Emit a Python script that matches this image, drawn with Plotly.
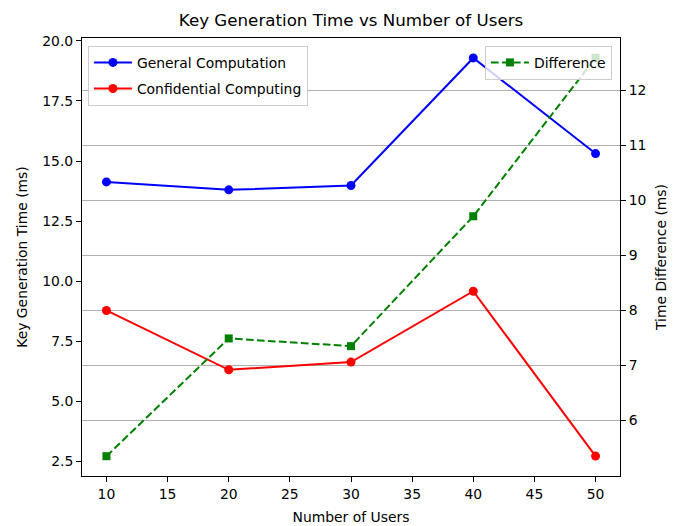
import plotly.graph_objects as go

users = [10, 20, 30, 40, 50]
general = [14.13, 13.80, 13.98, 19.29, 15.31]
confidential = [8.78, 6.31, 6.63, 9.58, 2.72]
difference = [5.35, 7.49, 7.35, 9.71, 12.59]

left_ticks = [2.5, 5.0, 7.5, 10.0, 12.5, 15.0, 17.5, 20.0]
right_ticks = [6, 7, 8, 9, 10, 11, 12]
x_ticks = [10, 15, 20, 25, 30, 35, 40, 45, 50]

FONT = "DejaVu Sans"
fig = go.Figure()
fig.add_trace(go.Scatter(x=users, y=general, mode="lines+markers", name="General Computation",
                         line=dict(color="#0000ff", width=2), marker=dict(size=9, color="#0000ff"),
                         legend="legend", legendgroup="g1"))
fig.add_trace(go.Scatter(x=users, y=confidential, mode="lines+markers", name="Confidential Computing",
                         line=dict(color="#ff0000", width=2), marker=dict(size=9, color="#ff0000"),
                         legend="legend", legendgroup="g2"))
fig.add_trace(go.Scatter(x=users, y=difference, mode="lines+markers", name="Difference",
                         line=dict(color="#008000", width=2, dash="7.7px,3.3px"),
                         marker=dict(size=8, color="#008000", symbol="square"),
                         yaxis="y2", legend="legend2", legendgroup="g3"))

axis_common = dict(showline=True, linecolor="black", linewidth=1, ticks="outside", ticklen=5,
                   tickwidth=1, tickcolor="black", tickfont=dict(family=FONT, size=13.9, color="black"),
                   zeroline=False)

fig.update_layout(
    width=682, height=526,
    margin=dict(l=82, r=62, t=38, b=50),
    plot_bgcolor="white", paper_bgcolor="white",
    font=dict(family=FONT, color="black"),
    title=dict(text="Key Generation Time vs Number of Users", x=0.5, xref="paper", xanchor="center",
               y=1 - 20 / 526, yref="container", yanchor="middle",
               font=dict(family=FONT, size=16.7, color="black")),
    xaxis=dict(range=[8, 52], tickvals=x_ticks, showgrid=False, mirror=True,
               title=dict(text="Number of Users", font=dict(family=FONT, size=13.9), standoff=11),
               automargin=False, **axis_common),
    yaxis=dict(range=[1.89, 20.12], tickvals=left_ticks, tickformat=".1f", showgrid=False,
               title=dict(text="Key Generation Time (ms)", font=dict(family=FONT, size=13.9), standoff=11),
               automargin=False, **axis_common),
    yaxis2=dict(range=[4.99, 12.95], tickvals=right_ticks, overlaying="y", side="right",
                showgrid=True, gridcolor="#b0b0b0", gridwidth=1,
                title=dict(text="Time Difference (ms)", font=dict(family=FONT, size=13.9), standoff=10),
                automargin=False, **axis_common),
    legend=dict(x=0.011, y=0.982, xanchor="left", yanchor="top", bgcolor="rgba(255,255,255,0.8)",
                bordercolor="#cccccc", borderwidth=1, font=dict(family=FONT, size=13.9),
                tracegroupgap=5, itemwidth=38),
    legend2=dict(x=0.985, y=0.982, xanchor="right", yanchor="top", bgcolor="rgba(255,255,255,0.8)",
                 bordercolor="#cccccc", borderwidth=1, font=dict(family=FONT, size=13.9),
                 itemwidth=38),
)

fig.write_html("out.html", config={"displayModeBar": False},
               post_script="document.body.style.margin='0';document.body.style.padding='0';")
